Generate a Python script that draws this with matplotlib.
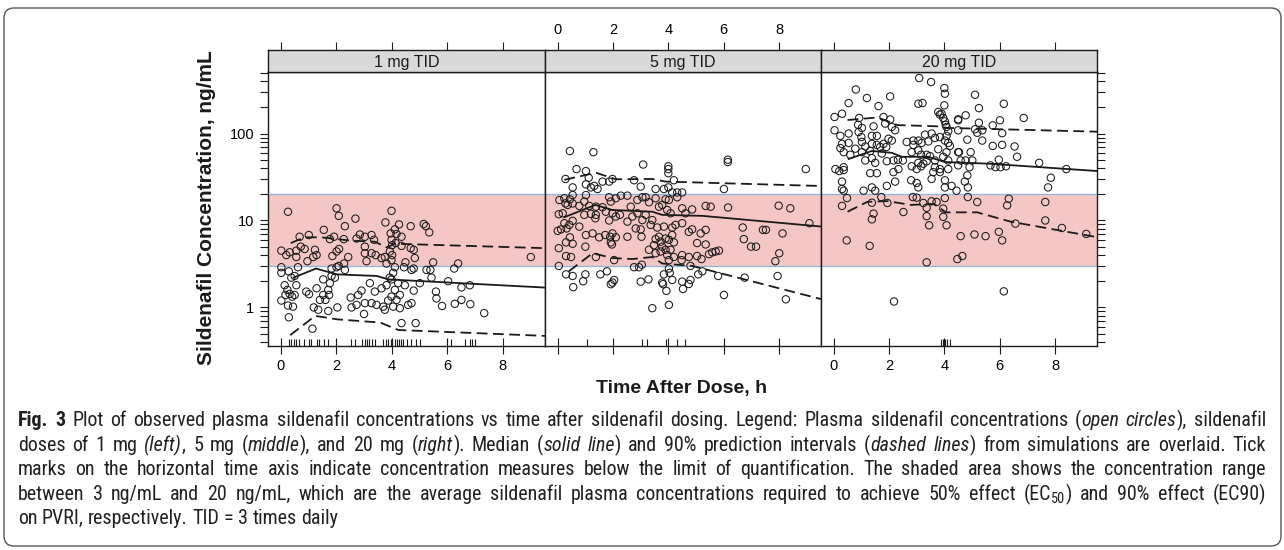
import matplotlib
matplotlib.use("Agg")
import matplotlib.pyplot as plt
import matplotlib.font_manager as fm
from matplotlib.patches import FancyBboxPatch
from matplotlib.transforms import IdentityTransform, blended_transform_factory
from matplotlib.ticker import LogLocator, NullFormatter

plt.rcParams['font.family'] = ['Liberation Sans', 'DejaVu Sans']

# ---- data ----
panels = ["1 mg TID", "5 mg TID", "20 mg TID"]

# observed concentrations, 1 mg TID (time h, conc ng/mL)
t_1mg = [0.26, 2.01, 2.09, 3.99, 2.69, 2.31, 3.77, 4.26, 4.68, 5.15,
         5.23, 5.35, 1.55, 4.11, 3.96, 4.17, 4.35, 0.68, 1.01, 1.77,
         1.92, 2.27, 2.73, 2.85, 3.03, 3.27, 3.36, 3.99, 4.14, 4.35,
         4.01, 0.02, 0.20, 0.32, 0.56, 0.72, 0.86, 1.23, 1.29, 1.17,
         0.96, 0.62, 0.56, 1.86, 2.01, 2.10, 2.43, 2.28, 2.09, 2.01,
         1.83, 3.03, 3.03, 3.09, 3.27, 3.42, 3.63, 3.75, 3.81, 3.93,
         3.99, 4.01, 4.68, 4.79, 4.83, 4.49, 4.44, 4.71, 4.79, 5.49,
         5.39, 5.25, 6.39, 6.25, 9.01,
         0.02, 0.02, 0.29, 0.38, 0.50, 0.14, 0.24, 0.32, 0.41, 0.50,
         0.17, 0.02, 0.26, 0.44, 0.29, 0.56, 0.92, 1.02, 1.29, 1.53,
         1.53, 1.71, 1.77, 1.83, 1.95, 1.74, 1.61, 1.41, 1.19, 1.35,
         1.71, 2.04, 2.31, 2.52, 2.55, 2.73, 2.79, 2.91, 3.03, 3.00,
         3.21, 3.27, 3.39, 3.45, 3.63, 3.69, 3.81, 3.93, 4.05, 4.11,
         3.99, 4.11, 4.23, 4.29, 3.99, 4.17, 4.05, 3.87, 4.29, 3.75,
         4.47, 4.59, 4.71, 4.79, 5.01, 5.43, 5.59, 5.61, 5.81, 6.03,
         6.27, 6.51, 6.51, 6.81, 6.83, 7.33, 4.35, 4.86, 1.14]
c_1mg = [12.6, 13.8, 11.3, 12.9, 10.5, 8.6, 9.5, 9.0, 8.6, 9.1,
         8.6, 7.3, 7.8, 7.9, 7.1, 7.0, 6.5, 6.5, 6.8, 6.1,
         6.5, 6.1, 6.2, 6.9, 6.5, 6.8, 6.0, 6.0, 5.5, 5.1,
         5.2, 4.5, 4.0, 4.3, 4.5, 5.0, 4.7, 4.6, 4.0, 3.8,
         3.4, 2.9, 3.8, 3.9, 4.4, 4.7, 3.8, 3.2, 3.0, 2.9,
         2.8, 5.0, 4.2, 3.4, 4.2, 4.0, 3.7, 3.8, 3.2, 4.4,
         3.5, 4.0, 4.8, 4.6, 3.7, 3.3, 2.9, 2.7, 2.8, 3.3,
         2.7, 2.7, 3.2, 2.8, 3.8,
         2.9, 2.5, 2.6, 2.2, 2.3, 1.8, 1.59, 1.43, 1.33, 1.39,
         1.39, 1.2, 1.05, 1.02, 0.77, 1.8, 1.52, 1.42, 1.66, 2.1,
         1.39, 1.59, 1.9, 2.3, 2.2, 1.39, 1.22, 1.22, 1.0, 0.94,
         0.91, 1.0, 2.7, 1.3, 1.0, 1.07, 1.39, 1.56, 1.12, 0.84,
         1.9, 1.12, 1.52, 1.07, 1.66, 1.02, 1.8, 2.2, 2.5, 2.9,
         2.1, 1.59, 1.9, 1.39, 1.33, 1.22, 1.02, 1.2, 0.98, 0.94,
         1.8, 1.07, 1.12, 1.56, 1.9, 2.2, 1.52, 1.27, 1.04, 2.0,
         1.1, 1.7, 1.22, 1.8, 1.09, 0.86, 0.66, 0.66, 0.57]

# observed concentrations, 5 mg TID
t_5mg = [0.44, 1.29, 3.09, 4.00, 4.00, 4.00, 6.15, 6.15, 8.97, 0.68,
         1.02, 1.12, 0.28, 1.62, 1.86, 1.98, 2.76, 3.00, 3.54, 3.84,
         4.00, 4.14, 4.32, 4.50, 4.20, 1.02, 1.20, 1.44, 1.32, 0.54,
         6.01, 0.06, 0.24, 0.36, 0.28, 0.54, 0.44, 0.54, 0.78, 1.02,
         0.96, 1.14, 1.38, 1.62, 1.86, 1.92, 2.10, 2.28, 2.52, 2.64,
         2.88, 3.06, 3.18, 3.30, 3.54, 3.66, 3.90, 4.02, 4.32, 3.78,
         3.96, 4.08, 4.50, 4.62, 4.86, 5.35, 5.53, 6.16, 7.99, 8.41,
         0.04, 0.18, 0.24, 0.42, 0.32, 0.54, 0.78, 0.12, 0.00, 0.96,
         1.20, 1.36, 1.38, 1.74, 1.98, 1.86, 2.10, 2.25, 2.52, 2.70,
         2.88, 3.18, 3.06, 3.42, 3.36, 2.82, 3.00, 3.60, 3.84, 4.14,
         4.26, 4.50, 4.74, 4.86, 5.35, 5.17, 6.69, 6.73, 6.99, 7.17,
         7.42, 7.53, 8.13, 8.01, 7.87, 9.10, 1.02, 1.26, 1.50, 1.72,
         1.90, 1.98, 2.10, 2.52, 3.03, 1.92, 1.96, 0.30, 0.54, 0.44,
         0.04, 1.00, 3.54, 3.48, 3.66, 3.72, 3.78, 3.90, 4.02, 4.14,
         4.20, 3.90, 4.08, 3.96, 3.72, 3.54, 4.02, 4.20, 4.50, 4.48,
         4.74, 5.04, 5.35, 5.59, 5.71, 5.83, 5.04, 5.20, 5.47, 0.30,
         0.48, 0.04, 1.38, 2.04, 3.30, 0.30, 0.54, 0.56, 1.00, 0.92,
         1.54, 1.78, 1.92, 2.04, 1.98, 2.76, 2.94, 3.04, 3.00, 3.28,
         3.78, 3.81, 3.84, 4.02, 4.05, 4.14, 3.93, 4.50, 4.53, 4.80,
         4.74, 4.80, 5.08, 5.23, 5.80, 6.01, 6.76, 7.95, 8.25, 3.42,
         4.02]
c_5mg = [63, 61, 44, 42, 39, 35, 50, 47, 39, 39,
         37, 31, 30, 28, 28, 30, 29, 24.5, 23, 23,
         24, 21, 21, 21, 29, 26, 24, 23, 25, 24,
         23, 17.2, 18, 15.1, 15.7, 15.7, 17.5, 19.6, 14.7, 19.6,
         16.5, 14.7, 14.4, 14.2, 18.5, 16.5, 18, 19.3, 19.3, 14.4,
         17.2, 18.5, 18.5, 16.2, 18, 14.4, 17.5, 17.2, 18.5, 15.1,
         13.2, 12.1, 13.8, 12.1, 13.4, 14.7, 14.4, 14.1, 14.8, 13.8,
         11.8, 12.1, 9.3, 8.9, 8.1, 9.9, 8.5, 7.9, 7.6, 11.6,
         11.9, 10.6, 11.6, 12.6, 12.1, 10.0, 11.1, 11.6, 9.7, 11.1,
         12.1, 11.6, 10.1, 10.1, 8.9, 8.1, 7.9, 8.3, 8.5, 8.3,
         8.9, 9.3, 7.4, 7.9, 7.8, 7.1, 8.3, 6.1, 5.0, 5.0,
         7.8, 7.8, 7.1, 4.2, 3.4, 9.3, 6.8, 7.1, 6.4, 6.8,
         6.5, 7.1, 6.4, 6.5, 6.5, 5.6, 5.3, 5.6, 5.4, 6.4,
         4.8, 5.0, 6.1, 5.2, 6.5, 5.7, 5.0, 6.2, 6.0, 6.8,
         5.6, 4.6, 4.6, 4.0, 4.4, 4.2, 3.5, 3.8, 4.0, 3.5,
         3.8, 5.5, 5.3, 4.3, 4.4, 4.5, 3.9, 3.6, 4.1, 3.9,
         3.8, 3.0, 3.8, 3.5, 4.6, 2.4, 2.3, 1.71, 2.4, 2.0,
         2.4, 2.6, 1.85, 2.07, 1.93, 2.9, 2.9, 3.1, 1.98, 2.1,
         1.93, 1.85, 2.4, 2.8, 2.5, 2.07, 1.55, 1.98, 1.63, 2.07,
         1.86, 3.0, 2.4, 2.6, 2.3, 1.39, 2.2, 2.3, 1.24, 0.98,
         1.07]

# observed concentrations, 20 mg TID
t_20mg = [3.09, 3.52, 4.00, 4.02, 0.80, 1.20, 2.04, 0.54, 1.62, 3.06,
          3.21, 4.00, 0.03, 0.30, 0.92, 1.44, 1.80, 1.86, 2.04, 2.10,
          2.22, 1.02, 0.88, 0.03, 0.54, 0.90, 0.24, 1.00, 1.38, 1.56,
          1.98, 2.10, 0.30, 0.54, 0.24, 0.36, 1.02, 1.14, 1.38, 1.56,
          1.68, 1.80, 1.90, 0.78, 0.60, 1.02, 1.32, 1.14, 1.38, 1.50,
          1.74, 1.92, 2.16, 2.32, 2.50, 2.64, 2.88, 3.06, 3.18, 3.30,
          3.42, 3.54, 3.66, 3.78, 3.84, 3.90, 3.96, 4.02, 4.05, 4.08,
          4.14, 4.08, 4.02, 4.14, 4.20, 4.08, 3.96, 4.14, 4.50, 4.50,
          4.50, 2.88, 3.06, 2.82, 3.16, 3.36, 3.48, 3.78, 3.84, 3.66,
          2.82, 3.00, 3.16, 3.24, 3.36, 3.66, 3.60, 3.84, 4.14, 3.06,
          2.34, 2.16, 1.92, 2.22, 1.38, 1.50, 1.08, 1.32, 1.56, 2.80,
          3.06, 3.00, 3.54, 3.84, 4.02, 4.26, 4.02, 4.44, 0.30, 0.30,
          0.36, 0.48, 0.06, 0.20, 0.36, 0.36, 0.30, 1.38, 1.72, 1.94,
          2.86, 3.00, 3.24, 3.36, 3.54, 3.72, 3.96, 4.02, 3.36, 3.45,
          3.96, 4.08, 1.44, 1.38, 2.52, 0.47, 1.30, 3.36, 2.18, 5.11,
          6.15, 5.25, 6.87, 4.77, 4.50, 5.25, 5.11, 5.19, 5.37, 5.37,
          5.75, 6.01, 6.09, 4.83, 5.75, 6.09, 6.54, 6.63, 4.53, 4.95,
          5.01, 4.77, 4.59, 4.50, 4.91, 5.67, 5.85, 6.03, 6.23, 5.97,
          7.43, 8.41, 7.85, 7.75, 4.83, 4.74, 4.85, 4.85, 5.19, 6.33,
          6.27, 7.65, 6.57, 7.65, 8.25, 9.13, 4.59, 5.09, 5.49, 5.97,
          6.09, 4.65, 4.47, 6.15]
c_20mg = [435, 391, 333, 287, 321, 256, 267, 224, 207, 220,
          224, 211, 155, 169, 151, 121, 155, 130, 145, 119,
          109, 116, 126, 109, 100, 104, 94, 91, 94, 94,
          87, 83, 76, 78, 68, 61, 80, 71, 76, 74,
          70, 76, 70, 67, 57, 61, 63, 49, 52, 46,
          59, 48, 49, 50, 49, 80, 83, 83, 78, 97,
          81, 100, 89, 177, 165, 169, 151, 138, 126, 119,
          106, 94, 83, 78, 72, 61, 54, 49, 61, 142,
          109, 74, 64, 61, 57, 57, 55, 66, 91, 49,
          42, 39, 42, 45, 48, 41, 36, 39, 39, 46,
          39, 36, 25, 28, 24, 22, 22, 35, 35, 29,
          24, 27, 30, 36, 29, 25, 24, 22, 28, 23,
          22, 18.1, 39, 37, 38, 41, 14.7, 16.0, 18.6, 15.9,
          18.6, 18.3, 15.9, 14.0, 16.6, 16.3, 13.7, 18.1, 11.2, 8.8,
          11.0, 8.8, 12.0, 10.3, 12.5, 5.9, 5.1, 3.3, 1.17, 279,
          220, 196, 151, 162, 146, 133, 112, 102, 109, 83,
          124, 142, 101, 85, 72, 74, 71, 54, 61, 61,
          49, 49, 49, 43, 41, 43, 41, 41, 42, 50,
          46, 39, 31, 24, 33, 28, 24, 18.6, 16.3, 17.8,
          14.9, 16.3, 9.2, 10.0, 8.2, 7.0, 6.6, 6.9, 6.6, 7.4,
          5.9, 3.9, 3.6, 1.53]

# simulated median and 90% prediction interval
med_t_1mg = [0.46, 1.27, 2.02, 3.46, 3.88, 9.55]
med_c_1mg = [2.2, 2.8, 2.4, 2.3, 2.1, 1.69]
hi_t_1mg = [0.36, 0.86, 1.47, 2.55, 3.39, 3.81, 4.11, 9.55]
hi_c_1mg = [5.5, 6.4, 6.4, 5.85, 5.7, 4.9, 5.4, 4.8]
lo_t_1mg = [0.34, 1.24, 2.02, 3.58, 4.24, 9.55]
lo_c_1mg = [0.48, 0.80, 0.73, 0.67, 0.55, 0.47]

med_t_5mg = [0.24, 1.36, 1.98, 3.42, 3.78, 5.23, 9.55]
med_c_5mg = [10.9, 15.1, 13.2, 12.6, 11.6, 11.3, 8.5]
hi_t_5mg = [0.24, 1.38, 2.10, 3.42, 3.90, 9.55]
hi_c_5mg = [29.3, 35.4, 29.8, 30.0, 28.0, 24.9]
lo_t_5mg = [0.40, 1.26, 1.98, 2.70, 3.42, 3.78, 4.86, 9.55]
lo_c_5mg = [2.6, 4.2, 3.7, 3.6, 3.8, 3.2, 3.0, 1.24]

med_t_20mg = [0.54, 1.38, 2.10, 2.46, 3.42, 4.02, 5.61, 9.55]
med_c_20mg = [51, 63, 60, 54, 54, 47, 45, 37]
hi_t_20mg = [0.50, 1.59, 2.30, 3.75, 4.10, 9.55]
hi_c_20mg = [143, 153, 125, 121, 116, 105]
lo_t_20mg = [0.50, 1.22, 1.94, 2.79, 3.63, 4.05, 5.19, 6.39, 9.55]
lo_c_20mg = [12.6, 16.4, 16.7, 15.1, 15.5, 12.4, 12.4, 9.7, 6.4]

# samples below the limit of quantification (rug marks)
blq_1mg = [0.28, 0.36, 0.46, 0.55, 0.66, 0.85, 1.0, 1.09, 1.3, 1.39,
           1.56, 1.69, 1.99, 2.52, 2.68, 2.92, 3.02, 3.1, 3.18, 3.28,
           3.4, 3.7, 3.8, 3.88, 3.96, 4.02, 4.1, 4.18, 4.26, 4.32,
           4.42, 4.54, 4.7, 4.88, 5.0, 5.98, 6.13, 6.64, 6.8, 6.88, 7.0]
blq_5mg = [1.05, 3.04, 3.22, 3.9, 4.32, 4.59]
blq_20mg = [3.87, 3.95, 4.02, 4.11, 4.19]

ec_low, ec_high = 3, 20

caption = [
    "*Fig. 3* Plot of observed plasma sildenafil concentrations vs time after sildenafil dosing. Legend: Plasma sildenafil concentrations (_open circles_), sildenafil",
    "doses of 1 mg _(left)_, 5 mg (_middle_), and 20 mg (_right_). Median (_solid line_) and 90% prediction intervals (_dashed lines_) from simulations are overlaid. Tick",
    "marks on the horizontal time axis indicate concentration measures below the limit of quantification. The shaded area shows the concentration range",
    "between 3 ng/mL and 20 ng/mL, which are the average sildenafil plasma concentrations required to achieve 50% effect (EC~50~) and 90% effect (EC90)",
    "on PVRI, respectively. TID = 3 times daily",
]

# ---- figure ----
W, H = 1284, 550
fig = plt.figure(figsize=(W / 100, H / 100), dpi=100)


def px_axes(left, top, right, bottom):
    return fig.add_axes([left / W, 1 - bottom / H, (right - left) / W, (bottom - top) / H])


obs = [(t_1mg, c_1mg), (t_5mg, c_5mg), (t_20mg, c_20mg)]
med = [(med_t_1mg, med_c_1mg), (med_t_5mg, med_c_5mg), (med_t_20mg, med_c_20mg)]
hi = [(hi_t_1mg, hi_c_1mg), (hi_t_5mg, hi_c_5mg), (hi_t_20mg, hi_c_20mg)]
lo = [(lo_t_1mg, lo_c_1mg), (lo_t_5mg, lo_c_5mg), (lo_t_20mg, lo_c_20mg)]
blq = [blq_1mg, blq_5mg, blq_20mg]

edges = [268, 545, 821, 1097]
xlim = (-0.46, 9.52)
ylim = (0.36, 510)
ink = "#1a1a1a"

for i in range(3):
    ax = px_axes(edges[i], 72, edges[i + 1], 346)
    ax.set_yscale("log")
    ax.set_xlim(*xlim)
    ax.set_ylim(*ylim)

    ax.axhspan(ec_low, ec_high, color="#f5c7c4", lw=0, zorder=0)
    ax.axhline(ec_low, color="#8db4e2", lw=0.9, zorder=1)
    ax.axhline(ec_high, color="#8db4e2", lw=0.9, zorder=1)

    ax.scatter(obs[i][0], obs[i][1], s=28, facecolors="none",
               edgecolors=ink, linewidths=0.75, zorder=3)
    ax.plot(med[i][0], med[i][1], color=ink, lw=1.3, zorder=4)
    ax.plot(hi[i][0], hi[i][1], color=ink, lw=1.3, dashes=(6, 3), zorder=4)
    ax.plot(lo[i][0], lo[i][1], color=ink, lw=1.3, dashes=(6, 3), zorder=4)

    trans = blended_transform_factory(ax.transData, ax.transAxes)
    ax.vlines(blq[i], 0, 0.027, transform=trans, color=ink, lw=0.8)

    ax.set_xticks([0, 2, 4, 6, 8])
    ax.tick_params(axis="x", direction="inout", length=12, width=0.8, color=ink,
                   top=False, bottom=True, labelbottom=(i != 1),
                   labelsize=10.5, pad=3)
    ax.set_yticks([1, 10, 100], labels=["1", "10", "100"])
    ax.yaxis.set_minor_locator(LogLocator(base=10, subs=range(2, 10), numticks=100))
    ax.yaxis.set_minor_formatter(NullFormatter())
    ax.tick_params(axis="y", which="both", direction="out", length=6, width=0.8,
                   color=ink, left=(i == 0), right=(i == 2),
                   labelleft=(i == 0), labelright=False, labelsize=10.5, pad=4)
    for sp in ax.spines.values():
        sp.set_linewidth(1.0)
        sp.set_color(ink)

    # strip with panel title and top axis
    sax = px_axes(edges[i], 50, edges[i + 1], 72)
    sax.set_facecolor("#d9d9d9")
    sax.set_xlim(*xlim)
    sax.set_yticks([])
    sax.set_xticks([0, 2, 4, 6, 8])
    sax.tick_params(axis="x", direction="out", length=6, width=0.8, color=ink,
                    top=True, bottom=False, labeltop=(i == 1), labelbottom=False,
                    labelsize=10.5, pad=3)
    for sp in sax.spines.values():
        sp.set_linewidth(1.0)
        sp.set_color(ink)
    sax.text(0.5, 0.45, panels[i], transform=sax.transAxes, ha="center",
             va="center", fontsize=11.5, color=ink)

fig.text(682 / W, 1 - 388 / H, "Time After Dose, h", ha="center", va="center",
         fontsize=14, fontweight="bold", color=ink)
fig.text(206 / W, 1 - 208 / H, "Sildenafil Concentration, ng/mL", ha="center",
         va="center", rotation=90, fontsize=15, fontweight="bold", color=ink)

# outer frame
fig.add_artist(FancyBboxPatch((4, 4), 1277, 538, boxstyle="round,pad=0,rounding_size=10",
                              transform=IdentityTransform(), fc="none",
                              ec="#555555", lw=1.0))

# ---- caption ----
# pick a narrow / condensed face if one is installed
names = {f.name for f in fm.fontManager.ttflist}
cap_font, cap_stretch = "DejaVu Sans", "normal"
found = False
for n in ["Liberation Sans Narrow", "Roboto Condensed", "Open Sans Condensed",
          "Noto Sans Condensed", "DejaVu Sans Condensed"]:
    if n in names:
        cap_font, found = n, True
        break
if not found:
    for fam in ["Noto Sans", "Roboto", "Open Sans", "DejaVu Sans", "Inter"]:
        if fam not in names:
            continue
        path = fm.findfont(fm.FontProperties(family=fam, stretch="condensed"),
                           fallback_to_default=False)
        if "ondensed" in path or "Narrow" in path:
            cap_font, cap_stretch, found = fam, "condensed", True
            break
if not found:
    others = sorted(n for n in names if "Condensed" in n or "Narrow" in n)
    if others:
        cap_font = others[0]

renderer = fig.canvas.get_renderer()


def parse(line):
    words, cur, buf = [], [], ""
    bold = ital = sub = False
    for ch in line + " ":
        if ch in " *_~":
            if buf:
                cur.append((buf, bold, ital, sub))
                buf = ""
            if ch == " ":
                if cur:
                    words.append(cur)
                cur = []
            elif ch == "*":
                bold = not bold
            elif ch == "_":
                ital = not ital
            else:
                sub = not sub
        else:
            buf += ch
    return words


def make(seg, size):
    s, b, it, sub = seg
    return fig.text(0, 0, s, fontsize=size * (0.72 if sub else 1.0),
                    fontweight="bold" if b else "normal",
                    fontstyle="italic" if it else "normal",
                    fontstretch=cap_stretch,
                    family=cap_font, color="#231f20",
                    transform=IdentityTransform(), ha="left", va="baseline")


def width(t):
    return t.get_window_extent(renderer).width


lines = [parse(l) for l in caption]
base = 10.0
all_texts = []
for words in lines:
    all_texts.append([[(make(seg, base), seg) for seg in w] for w in words])

probe_a = fig.text(0, 0, "a a", fontsize=base, family=cap_font, fontstretch=cap_stretch,
                   transform=IdentityTransform())
probe_b = fig.text(0, 0, "aa", fontsize=base, family=cap_font, fontstretch=cap_stretch,
                   transform=IdentityTransform())
space = width(probe_a) - width(probe_b)
probe_a.remove()
probe_b.remove()


def natural_width(row):
    return sum(width(t) for w in row for t, _ in w) + space * (len(row) - 1)


# scale so the last (unjustified) line ends where it does in the original,
# without letting the first line overflow
size_last = base * 318 / natural_width(all_texts[-1])
size_first = base * 1244 / natural_width(all_texts[0])
size = min(size_last, size_first)
space *= size / base
for row in all_texts:
    for w in row:
        for t, seg in w:
            t.set_fontsize(size * (0.72 if seg[3] else 1.0))

x0, x1 = 18, 1266
baselines = [426, 451, 475, 500, 524]
for k, row in enumerate(all_texts):
    wws = [sum(width(t) for t, _ in w) for w in row]
    if k < len(all_texts) - 1:
        gap = max((x1 - x0 - sum(wws)) / (len(row) - 1), space * 0.8)
    else:
        gap = space
    x = x0
    y = H - baselines[k]
    for w, ww in zip(row, wws):
        xx = x
        for t, seg in w:
            t.set_position((xx, y - (3 if seg[3] else 0)))
            xx += width(t)
        x += ww + gap

fig.savefig("out.png", dpi=100)
